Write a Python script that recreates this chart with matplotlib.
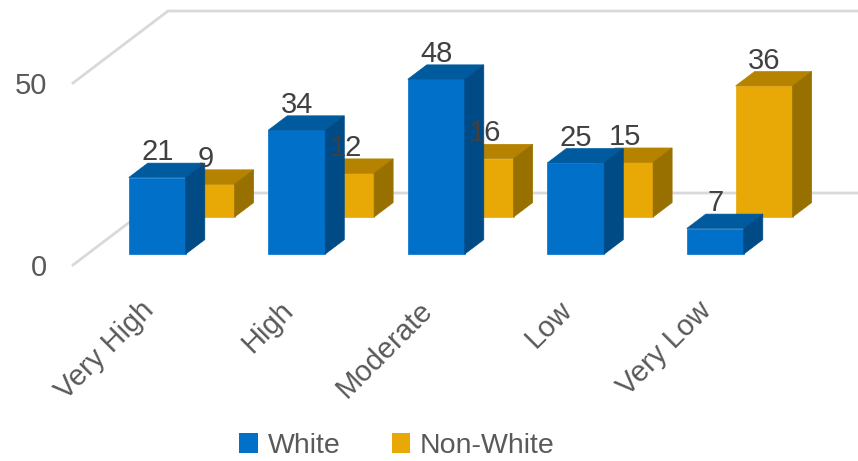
import matplotlib
matplotlib.use('Agg')
import matplotlib.pyplot as plt
from matplotlib.patches import Polygon, Patch

categories = ['Very High', 'High', 'Moderate', 'Low', 'Very Low']
series_names = ['White', 'Non-White']
white = [21, 34, 48, 25, 7]
non_white = [9, 12, 16, 15, 36]
y_ticks = [0, 50]

# face colours: front, top, side
colors = {
    'White': ('#0070c8', '#005a9e', '#004a85'),
    'Non-White': ('#e8a806', '#b68300', '#987000'),
}

plt.rcParams['font.family'] = ['Liberation Sans', 'DejaVu Sans']

# simple oblique projection of the 3d plot box into pixel space
X0, Y0 = 73, 265          # front-left corner of the floor
DX, DY = 95, -72          # offset from floor front to back wall
K = 3.64                  # pixels per value unit
SP = 139.5                # width of one category slot
W = 57                    # bar width
GAP = (SP - W) / 2
ROW_D = {'White': 0.153, 'Non-White': 0.667}
BD = 0.2                  # bar depth


def proj(u, d, v):
    return (X0 + u + d * DX, Y0 - v * K + d * DY)


fig = plt.figure(figsize=(8.58, 4.61), dpi=100)
ax = fig.add_axes([0, 0, 1, 1])
ax.set_xlim(0, 858)
ax.set_ylim(461, 0)
ax.axis('off')

# walls / gridlines
for v in y_ticks:
    pts = [proj(0, 0, v), proj(0, 1, v), proj(len(categories) * SP, 1, v)]
    ax.plot([p[0] for p in pts], [p[1] for p in pts], color='#d9d9d9', lw=2, zorder=1)
    ax.text(47, proj(0, 0, v)[1] + 3, str(v), ha='right', va='center',
            fontsize=21, color='#595959')

labels = []
for name, values in [('Non-White', non_white), ('White', white)]:
    front, top, side = colors[name]
    d0 = ROW_D[name]
    d1 = d0 + BD
    for i, v in enumerate(values):
        u0 = i * SP + GAP
        u1 = u0 + W
        faces = [
            ([proj(u0, d0, 0), proj(u1, d0, 0), proj(u1, d0, v), proj(u0, d0, v)], front),
            ([proj(u0, d0, v), proj(u1, d0, v), proj(u1, d1, v), proj(u0, d1, v)], top),
            ([proj(u1, d0, 0), proj(u1, d1, 0), proj(u1, d1, v), proj(u1, d0, v)], side),
        ]
        for pts, c in faces:
            ax.add_patch(Polygon(pts, closed=True, facecolor=c, edgecolor=c,
                                 lw=0.5, zorder=2))
        lx = proj((u0 + u1) / 2, d0, v)[0]
        ly = proj(u0, d1, v)[1] - 3
        labels.append((lx, ly, v))

for lx, ly, v in labels:
    ax.text(lx, ly, str(v), ha='center', va='baseline', fontsize=21,
            color='#404040', zorder=5)

# category labels
for i, cat in enumerate(categories):
    x, y = proj(i * SP + SP / 2, ROW_D['White'], 0)
    ax.text(x - 8, y + 52, cat, rotation=45, rotation_mode='anchor', ha='right',
            va='center', fontsize=21, color='#595959')

handles = [Patch(facecolor=colors[n][0], edgecolor='none', label=n) for n in series_names]
ax.legend(handles=handles, loc='center', bbox_to_anchor=(397, 446),
          bbox_transform=ax.transData, ncol=2, frameon=False, fontsize=20.5,
          handlelength=0.65, handleheight=0.65, handletextpad=0.35,
          columnspacing=1.8, labelcolor='#595959', borderpad=0.2)

fig.savefig('out.png', dpi=100)
